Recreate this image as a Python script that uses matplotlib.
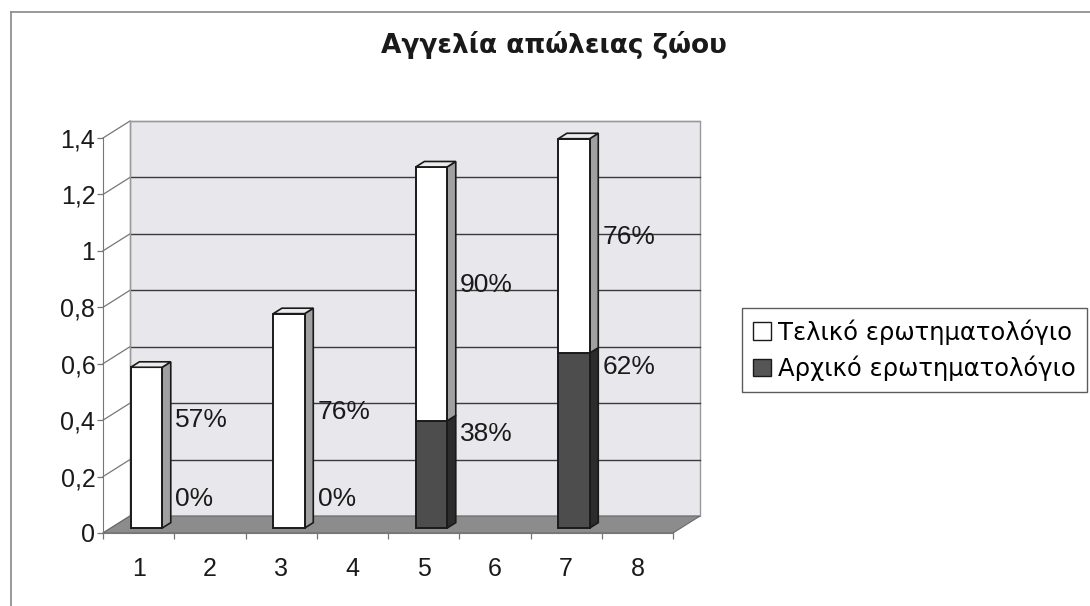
import numpy as np
import matplotlib
matplotlib.use("Agg")
import matplotlib.pyplot as plt
from matplotlib.patches import Polygon, Patch
from matplotlib.lines import Line2D

# chart values (fractions, shown as percentages)
categories = [1, 2, 3, 4, 5, 6, 7, 8]
initial = [0.0, np.nan, 0.0, np.nan, 0.38, np.nan, 0.62, np.nan]   # Αρχικό
final = [0.57, np.nan, 0.76, np.nan, 0.90, np.nan, 0.76, np.nan]   # Τελικό
y_ticks = [0, 0.2, 0.4, 0.6, 0.8, 1.0, 1.2, 1.4]
title = "Αγγελία απώλειας ζώου"
series_names = ["Τελικό ερωτηματολόγιο", "Αρχικό ερωτηματολόγιο"]

W, H = 1090, 606
plt.rcParams['font.family'] = ['Liberation Sans', 'DejaVu Sans']

fig = plt.figure(figsize=(W / 100, H / 100), dpi=100)
ax = fig.add_axes([103 / W, (H - 533) / H, 570 / W, 395 / H])
ax.set_xlim(0.5, 8.5)
ax.set_ylim(0, 1.4)

# depth of the 3d box in data units
DX, DY = 27 / 71.25, 17 / 282.0
F0, FD = 0.29, 0.32      # bar front position and bar depth (fraction of box depth)
BW = 0.44

wall_col = "#e8e8ec"
grid_col = "#3a3a3a"

# back wall
ax.add_patch(Polygon([(0.5 + DX, DY), (8.5 + DX, DY), (8.5 + DX, 1.4 + DY), (0.5 + DX, 1.4 + DY)],
                     closed=True, facecolor=wall_col, edgecolor="#9a9a9a", lw=1, zorder=0, clip_on=False))
for t in y_ticks[1:]:
    ax.plot([0.5 + DX, 8.5 + DX], [t + DY, t + DY], color=grid_col if t < 1.4 else "#9a9a9a",
            lw=1, zorder=1, clip_on=False)
# left side wall lines
for t in y_ticks:
    ax.plot([0.5, 0.5 + DX], [t, t + DY], color="#777777", lw=0.9, zorder=1, clip_on=False)
ax.plot([0.5 + DX, 0.5 + DX], [DY, 1.4 + DY], color="#9a9a9a", lw=1, zorder=1, clip_on=False)

# floor
ax.add_patch(Polygon([(0.5, 0), (8.5, 0), (8.5 + DX, DY), (0.5 + DX, DY)], closed=True,
                     facecolor="#8c8c8c", edgecolor="#6a6a6a", lw=0.8, zorder=2, clip_on=False))


def draw_segment(x, y0, y1, front, side, top, draw_top):
    xl = x - BW / 2 + F0 * DX
    xr = x + BW / 2 + F0 * DX
    b0 = y0 + F0 * DY
    b1 = y1 + F0 * DY
    ddx, ddy = FD * DX, FD * DY
    ax.add_patch(Polygon([(xr, b0), (xr + ddx, b0 + ddy), (xr + ddx, b1 + ddy), (xr, b1)], closed=True,
                         facecolor=side, edgecolor="#1a1a1a", lw=1.2, zorder=3, clip_on=False))
    ax.add_patch(Polygon([(xl, b0), (xr, b0), (xr, b1), (xl, b1)], closed=True,
                         facecolor=front, edgecolor="#1a1a1a", lw=1.4, zorder=4, clip_on=False))
    if draw_top:
        ax.add_patch(Polygon([(xl, b1), (xr, b1), (xr + ddx, b1 + ddy), (xl + ddx, b1 + ddy)], closed=True,
                             facecolor=top, edgecolor="#1a1a1a", lw=1.2, zorder=4, clip_on=False))


for c, a, b in zip(categories, initial, final):
    if np.isnan(a) or np.isnan(b):
        continue
    xend = c + BW / 2 + F0 * DX + FD * DX
    if a > 0:
        draw_segment(c, 0, a, "#4d4d4d", "#2c2c2c", "#6a6a6a", False)
    draw_segment(c, a, a + b, "white", "#a0a0a0", "#ececec", True)
    # data labels
    ax.text(xend + 0.06, max(a - 0.03, 0.12), f"{a * 100:.0f}%", fontsize=19, ha="left",
            va="center", color="#1a1a1a", zorder=6)
    ax.text(xend + 0.06, max(a + b / 2 + 0.05, 0.4), f"{b * 100:.0f}%", fontsize=19, ha="left",
            va="center", color="#1a1a1a", zorder=6)

# axes styling
for s in ["top", "right"]:
    ax.spines[s].set_visible(False)
ax.spines["left"].set_color("#777777")
ax.spines["bottom"].set_color("#777777")
ax.patch.set_visible(False)
ax.set_yticks(y_ticks)
ax.set_yticklabels([("%g" % t).replace(".", ",") for t in y_ticks], fontsize=18, color="#1a1a1a")
ax.tick_params(axis="y", length=4.5, width=0.9, color="#777777", pad=1)
ax.set_xticks(categories)
ax.set_xticklabels([str(c) for c in categories], fontsize=18, color="#1a1a1a")
ax.set_xticks(np.arange(0.5, 9, 1), minor=True)
ax.tick_params(axis="x", which="major", length=0, pad=17)
ax.tick_params(axis="x", which="minor", length=4, width=0.9, color="#777777")

fig.text(554 / W, 1 - 45 / H, title, fontsize=19, fontweight="bold", ha="center", va="center",
         family=["DejaVu Sans"], color="#1a1a1a")

handles = [Patch(facecolor="white", edgecolor="#1a1a1a"), Patch(facecolor="#555555", edgecolor="#1a1a1a")]
leg = fig.legend(handles, series_names, loc="center left", bbox_to_anchor=(742 / W, 1 - 350 / H),
                 frameon=True, fancybox=False, handlelength=0.75, handleheight=0.75,
                 handletextpad=0.3, borderpad=0.45, labelspacing=0.45, borderaxespad=0,
                 prop={"family": ["DejaVu Sans"], "size": 17.5})
leg.get_frame().set_edgecolor("#333333")
leg.get_frame().set_linewidth(1)

# outer chart frame
fig.add_artist(Line2D([11 / W, 1], [1 - 12 / H, 1 - 12 / H], color="#888888", lw=1.2))
fig.add_artist(Line2D([11 / W, 11 / W], [0, 1 - 12 / H], color="#888888", lw=1.2))

fig.savefig("out.png", dpi=100)
